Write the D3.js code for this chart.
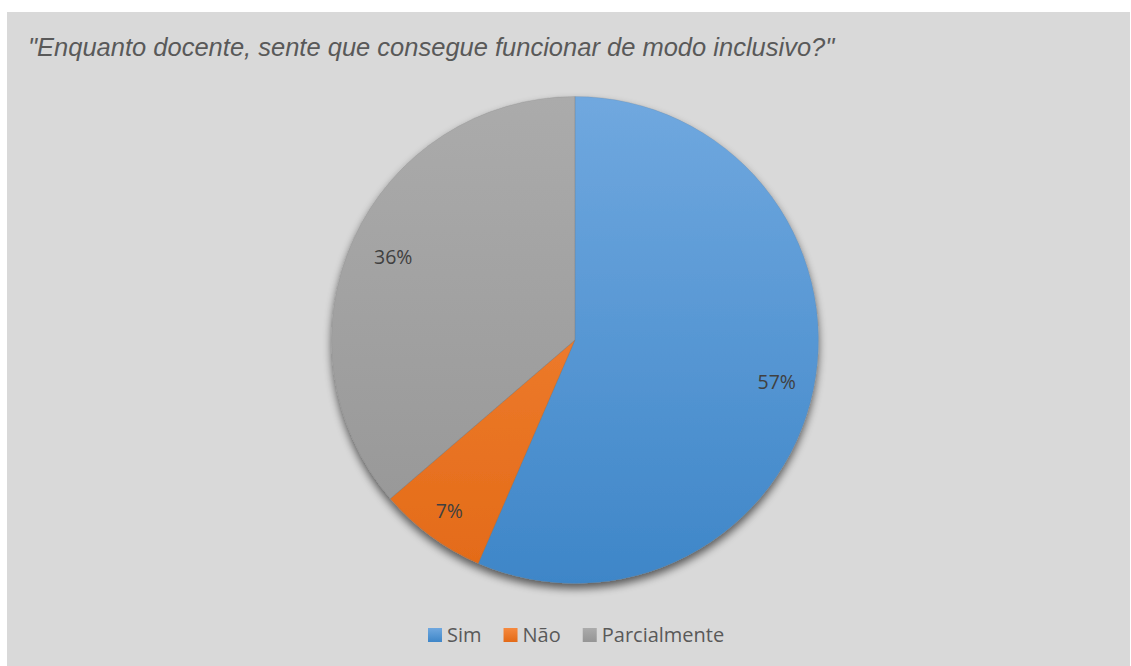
<!DOCTYPE html>
<html>
<head>
<meta charset="utf-8">
<script src="https://cdn.jsdelivr.net/npm/d3@7"></script>
<style>
  html, body { margin: 0; padding: 0; background: #ffffff; }
  svg { display: block; }
</style>
</head>
<body>
<svg id="chart" width="1131" height="666"></svg>
<script>
const title = "\"Enquanto docente, sente que consegue funcionar de modo inclusivo?\"";
const categories = ["Sim", "Não", "Parcialmente"];
const values = [56.5, 7.2, 36.3];
const labels = ["57%", "7%", "36%"];
const colorsTop = ["#70a8df", "#f6893e", "#ababab"];
const colorsBottom = ["#3e86c8", "#e36a17", "#959595"];

const W = 1131, H = 666;
const svg = d3.select("#chart");
const defs = svg.append("defs");

svg.append("rect").attr("x", 7).attr("y", 12).attr("width", W - 8).attr("height", H - 12)
  .attr("fill", "#d9d9d9");

svg.append("text").attr("x", 28).attr("y", 56)
  .attr("font-family", "Liberation Sans, Arial, sans-serif")
  .attr("font-style", "italic").attr("font-size", 25.5).attr("fill", "#595959")
  .text(title);

const cx = 575, cy = 340, R = 243.5;

categories.forEach((c, i) => {
  const g = defs.append("linearGradient").attr("id", "grad" + i)
    .attr("gradientUnits", "userSpaceOnUse")
    .attr("x1", 0).attr("y1", -R).attr("x2", 0).attr("y2", R);
  g.append("stop").attr("offset", "0%").attr("stop-color", colorsTop[i]);
  g.append("stop").attr("offset", "100%").attr("stop-color", colorsBottom[i]);
  const gg = defs.append("linearGradient").attr("id", "lgrad" + i)
    .attr("x1", 0).attr("y1", 0).attr("x2", 0).attr("y2", 1);
  gg.append("stop").attr("offset", "0%").attr("stop-color", colorsTop[i]);
  gg.append("stop").attr("offset", "100%").attr("stop-color", colorsBottom[i]);
});

const f = defs.append("filter").attr("id", "shadow")
  .attr("x", "-20%").attr("y", "-20%").attr("width", "140%").attr("height", "140%");
f.append("feGaussianBlur").attr("in", "SourceAlpha").attr("stdDeviation", 4.5).attr("result", "blur");
f.append("feOffset").attr("in", "blur").attr("dx", 0).attr("dy", 5).attr("result", "off");
f.append("feComponentTransfer").attr("in", "off").attr("result", "sh")
  .append("feFuncA").attr("type", "linear").attr("slope", 0.6);
const m = f.append("feMerge");
m.append("feMergeNode").attr("in", "sh");
m.append("feMergeNode").attr("in", "SourceGraphic");

const pie = d3.pie().sort(null).value(d => d)(values);
const arc = d3.arc().innerRadius(0).outerRadius(R);
const labelRadius = [206, 212, 200];

const g = svg.append("g").attr("transform", `translate(${cx},${cy})`);
const slices = g.append("g").attr("filter", "url(#shadow)");
slices.selectAll("path").data(pie).enter().append("path")
  .attr("d", arc)
  .attr("fill", (d, i) => `url(#grad${i})`)
  .attr("stroke", "none");

g.selectAll("path.sep").data(pie).enter().append("path").attr("class", "sep")
  .attr("d", arc).attr("fill", "none").attr("stroke", "rgba(120,120,120,0.35)").attr("stroke-width", 0.6);

g.selectAll("text.lbl").data(pie).enter().append("text").attr("class", "lbl")
  .attr("transform", (d, i) => {
    const la = d3.arc().innerRadius(labelRadius[i]).outerRadius(labelRadius[i]);
    return `translate(${la.centroid(d)})`;
  })
  .attr("text-anchor", "middle").attr("dominant-baseline", "central")
  .attr("font-family", "Open Sans, Noto Sans, sans-serif").attr("font-size", 19.5)
  .attr("fill", "#404040")
  .text((d, i) => labels[i]);

const legend = svg.append("g");
const lg = legend.selectAll("g").data(categories).enter().append("g");
lg.append("rect")
  .attr("width", 14).attr("height", 14).attr("y", 628)
  .attr("fill", (d, i) => `url(#lgrad${i})`);
lg.append("text").attr("y", 642)
  .attr("font-family", "Open Sans, Noto Sans, sans-serif").attr("font-size", 20)
  .attr("fill", "#595959")
  .text(d => d);
let xpos = 428;
lg.each(function(d, i) {
  const sel = d3.select(this);
  sel.select("rect").attr("x", xpos);
  sel.select("text").attr("x", xpos + 19);
  const w = sel.select("text").node().getComputedTextLength();
  xpos += 19 + w + 22;
});
</script>
</body>
</html>
